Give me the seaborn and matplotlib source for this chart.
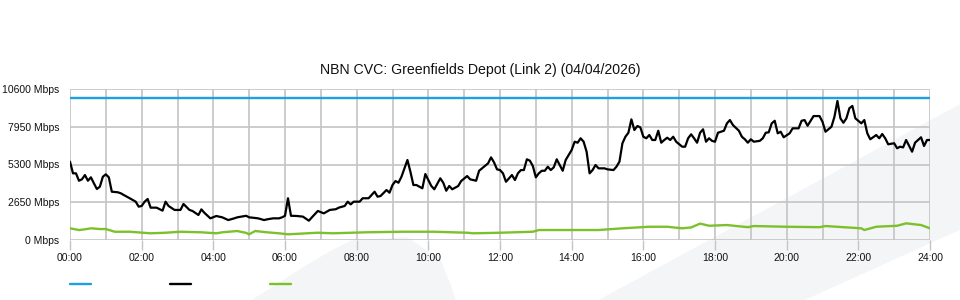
import matplotlib
matplotlib.use("Agg")
import matplotlib.pyplot as plt
from matplotlib.lines import Line2D
from matplotlib.patches import Polygon
import seaborn as sns
import pandas as pd
import numpy as np

# ---------------- data ----------------
title = "NBN CVC: Greenfields Depot (Link 2) (04/04/2026)"
y_ticks = [0, 2650, 5300, 7950, 10600]
y_tick_labels = ["0 Mbps", "2650 Mbps", "5300 Mbps", "7950 Mbps", "10600 Mbps"]
x_ticks_min = [0, 120, 240, 360, 480, 600, 720, 840, 960, 1080, 1200, 1320, 1440]
x_tick_labels = ["00:00", "02:00", "04:00", "06:00", "08:00", "10:00", "12:00",
                 "14:00", "16:00", "18:00", "20:00", "22:00", "24:00"]

capacity_min = [0, 1440]
capacity_val = [10000, 10000]

traffic_min = [0, 5, 10, 15, 20, 25, 30, 35, 40, 45, 50, 55, 60, 65, 70, 80, 85, 90,
               100, 110, 115, 120, 125, 130, 135, 145, 155, 160, 165, 175, 185, 190,
               200, 205, 215, 220, 225, 235, 245, 255, 265, 275, 280, 295, 300, 305,
               315, 325, 330, 340, 350, 355, 360, 365, 370, 380, 390, 400, 405, 415,
               425, 435, 445, 450, 460, 465, 470, 475, 485, 490, 500, 510, 515, 520,
               530, 535, 540, 545, 550, 555, 565, 570, 575, 580, 590, 595, 605, 610,
               620, 625, 630, 635, 640, 650, 655, 665, 670, 680, 685, 690, 700, 705,
               710, 715, 720, 725, 730, 735, 740, 745, 750, 755, 760, 765, 770, 775,
               780, 785, 790, 795, 800, 805, 810, 815, 820, 825, 830, 840, 845, 850,
               855, 860, 865, 870, 875, 880, 885, 895, 900, 910, 915, 920, 925, 930,
               935, 940, 945, 950, 955, 960, 965, 970, 975, 980, 985, 990, 995, 1000,
               1005, 1010, 1015, 1025, 1030, 1035, 1040, 1045, 1050, 1055, 1060, 1065,
               1070, 1075, 1080, 1085, 1095, 1100, 1105, 1110, 1120, 1125, 1130, 1135,
               1140, 1145, 1155, 1160, 1165, 1170, 1175, 1180, 1185, 1190, 1195, 1205,
               1210, 1220, 1225, 1230, 1235, 1245, 1255, 1260, 1265, 1275, 1280, 1285,
               1290, 1295, 1300, 1305, 1310, 1315, 1325, 1330, 1335, 1340, 1350, 1355,
               1360, 1365, 1370, 1380, 1385, 1390, 1395, 1400, 1410, 1415, 1425, 1430,
               1435, 1440]
traffic_val = [5500, 4680, 4680, 4160, 4260, 4560, 4160, 4400, 3980, 3580, 3740, 4440,
               4610, 4400, 3390, 3350, 3280, 3160, 2930, 2690, 2340, 2390, 2690, 2880,
               2270, 2270, 2060, 2690, 2390, 2110, 2110, 2530, 2110, 2040, 1755, 2150,
               1910, 1520, 1685, 1590, 1400, 1520, 1590, 1700, 1590, 1570, 1520, 1400,
               1450, 1520, 1520, 1590, 1700, 2930, 1700, 1685, 1640, 1355, 1590, 2040,
               1870, 2110, 2160, 2270, 2390, 2690, 2500, 2690, 2690, 2930, 2930, 3390,
               3040, 3090, 3510, 3320, 3860, 4140, 4020, 4440, 5616, 4790, 3860, 3860,
               3630, 4630, 3790, 3560, 4330, 4020, 3460, 3790, 3560, 3790, 4140, 4490,
               4260, 4160, 4860, 5030, 5380, 5800, 5450, 4960, 4910, 4680, 4090, 4330,
               4560, 4210, 4680, 4910, 4910, 5665, 5570, 5195, 4400, 4680, 4860, 4860,
               5145, 4910, 5100, 5665, 5265, 4860, 5616, 6320, 6900, 6830, 7140, 6900,
               6200, 4680, 4910, 5265, 5030, 5030, 4960, 4910, 5145, 5500, 6790, 7250,
               7530, 8470, 7720, 8000, 7910, 7250, 7140, 7370, 7020, 7020, 7670, 6830,
               7020, 7180, 7020, 7250, 6900, 6550, 6550, 7140, 7420, 7140, 6830, 7530,
               7770, 6900, 7140, 6960, 6900, 7530, 7670, 8190, 8420, 8070, 7670, 7250,
               7070, 6830, 7070, 6900, 6960, 7140, 7530, 7560, 8190, 8370, 7490, 7600,
               7210, 7490, 7840, 7840, 8370, 8420, 8020, 8700, 8700, 8300, 7600, 7950,
               8650, 9760, 8540, 8230, 8540, 9250, 9410, 8540, 8190, 8420, 7490, 7070,
               7370, 7140, 7440, 7140, 6720, 6790, 6440, 6550, 6500, 7020, 6200, 6830,
               7210, 6600, 7020, 7020]

other_min = [0, 15, 25, 35, 50, 60, 75, 100, 135, 160, 185, 220, 245, 255, 280, 295,
             300, 310, 330, 350, 365, 415, 440, 495, 555, 610, 665, 675, 720, 775, 785,
             830, 885, 925, 970, 1000, 1025, 1040, 1055, 1070, 1100, 1135, 1145, 1200,
             1255, 1265, 1325, 1330, 1350, 1385, 1400, 1425, 1440]
other_val = [820, 700, 750, 820, 770, 770, 580, 580, 470, 510, 580, 540, 470, 540, 630,
             500, 400, 630, 540, 470, 400, 510, 470, 540, 580, 580, 510, 470, 510, 580,
             700, 700, 700, 820, 930, 930, 820, 880, 1150, 1000, 1050, 900, 980, 930,
             900, 980, 820, 700, 930, 1000, 1170, 1050, 820]

blue = "#1fa0e2"
black = "#000000"
green = "#7cc12c"
grid_c = "#c4c4c4"

# ---------------- plot ----------------
sns.set_theme(style="white")
plt.rcParams["font.family"] = ["Liberation Sans", "DejaVu Sans"]

fig = plt.figure(figsize=(9.6, 3.0), dpi=100)
fig.patch.set_facecolor("white")

# faint watermark shapes in the background
wm = "#f4f5f7"
fig.patches.append(Polygon([[600/960, 0], [960/960, 195/300], [960/960, 71/300], [803/960, 0]],
                           closed=True, transform=fig.transFigure, color=wm, zorder=-5))
fig.patches.append(Polygon([[253/960, 0], [300/960, 30/300], [330/960, 48/300], [352/960, 59/300],
                            [407/960, 62/300], [440/960, 40/300], [450/960, 15/300], [455/960, 0]],
                           closed=True, transform=fig.transFigure, color=wm, zorder=-5))

ax = fig.add_axes([70/960, 60/300, 860/960, 151/300])
ax.patch.set_alpha(0)
ax.set_zorder(1)

df_cap = pd.DataFrame({"t": capacity_min, "v": capacity_val})
df_tr = pd.DataFrame({"t": traffic_min, "v": traffic_val})
df_ot = pd.DataFrame({"t": other_min, "v": other_val})

sns.lineplot(data=df_cap, x="t", y="v", ax=ax, color=blue, lw=1.7, zorder=3)
sns.lineplot(data=df_ot, x="t", y="v", ax=ax, color=green, lw=1.7, zorder=3)
sns.lineplot(data=df_tr, x="t", y="v", ax=ax, color=black, lw=1.6, zorder=4)

ax.set_xlim(0, 1440)
ax.set_ylim(0, 10600)
ax.set_xlabel("")
ax.set_ylabel("")

ax.set_yticks(y_ticks)
ax.set_yticklabels(y_tick_labels)
ax.set_xticks(x_ticks_min)
ax.set_xticklabels(x_tick_labels)
ax.set_xticks(np.arange(0, 1441, 60), minor=True)

for s in ax.spines.values():
    s.set_visible(False)

ax.grid(True, which="both", axis="x", color=grid_c, lw=1.2, zorder=1)
ax.grid(True, which="major", axis="y", color=grid_c, lw=1.2, zorder=1)
ax.set_axisbelow(True)

ax.tick_params(axis="x", which="major", length=7.5, width=1.0, color=grid_c,
               labelsize=7.5, pad=2, bottom=True)
ax.tick_params(axis="x", which="minor", length=0)
ax.tick_params(axis="y", length=0, labelsize=7.5, pad=7.5)
for lbl in ax.get_xticklabels() + ax.get_yticklabels():
    lbl.set_color("#111111")

fig.text(0.5, 1 - 70/300, title, ha="center", va="center", fontsize=10.2, color="#111111")

handles = [Line2D([], [], color=blue, lw=1.7),
           Line2D([], [], color=black, lw=1.7),
           Line2D([], [], color=green, lw=1.7)]
fig.legend(handles, ["", "", ""], ncol=3, loc="center left",
           bbox_to_anchor=(70/960, 1 - 285/300), frameon=False, fontsize=8,
           handlelength=1.9, handletextpad=0.0, columnspacing=7.1,
           borderpad=0, borderaxespad=0)

fig.savefig("out.png", dpi=100)
